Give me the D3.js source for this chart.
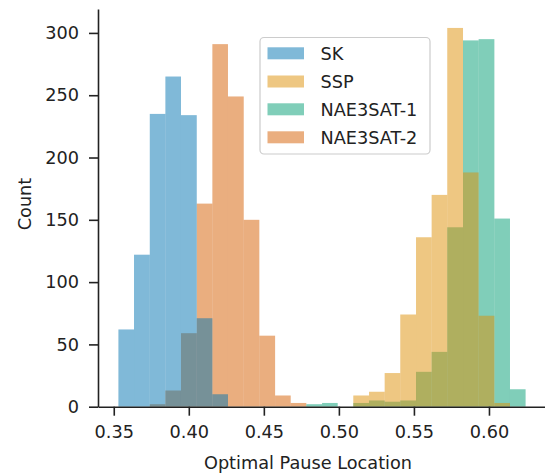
<!DOCTYPE html>
<html>
<head>
<meta charset="utf-8">
<script src="https://cdn.jsdelivr.net/npm/d3@7"></script>
<style>
  html, body { margin: 0; padding: 0; background: #fff; }
  svg { display: block; }
  text { font-family: "DejaVu Sans", sans-serif; fill: #222; }
</style>
</head>
<body>
<svg id="chart" width="545" height="475"></svg>
<script>
// Shared bin edges (27 edges -> 26 bins)
const binEdges = [0.3531, 0.3635, 0.3740, 0.3844, 0.3948, 0.4053, 0.4157, 0.4261, 0.4366,
  0.4470, 0.4575, 0.4679, 0.4783, 0.4888, 0.4992, 0.5096, 0.5201, 0.5305, 0.5409,
  0.5514, 0.5618, 0.5722, 0.5827, 0.5931, 0.6036, 0.6140, 0.6244];

const seriesNames = ["SK", "SSP", "NAE3SAT-1", "NAE3SAT-2"];
const seriesColors = ["#0173b2", "#de8f05", "#029e73", "#d55e00"];

const countsSK   = [62, 122, 235, 265, 234, 71, 10, 0, 0, 0, 0, 0, 0, 0, 0, 0, 0, 0, 0, 0, 0, 0, 0, 0, 0, 0];
const countsSSP  = [0, 0, 0, 0, 0, 0, 0, 0, 0, 0, 0, 0, 0, 0, 0, 9, 12, 27, 74, 136, 170, 304, 188, 73, 3, 0];
const countsNAE1 = [0, 0, 0, 0, 0, 0, 0, 0, 0, 0, 0, 0, 2, 3, 0, 3, 5, 4, 5, 28, 44, 144, 294, 295, 151, 14];
const countsNAE2 = [0, 0, 2, 13, 59, 163, 291, 249, 150, 57, 9, 3, 0, 0, 0, 0, 0, 0, 0, 0, 0, 0, 0, 0, 0, 0];

const xTicks = [0.35, 0.40, 0.45, 0.50, 0.55, 0.60];
const yTicks = [0, 50, 100, 150, 200, 250, 300];
const xLabel = "Optimal Pause Location";
const yLabel = "Count";

const seriesCounts = [countsSK, countsSSP, countsNAE1, countsNAE2];
const FS = "17.7px";

const svg = d3.select("#chart");
const x = d3.scaleLinear().domain([0.3395, 0.638]).range([98, 546]);
const y = d3.scaleLinear().domain([0, 319.2]).range([406.7, 9]);

// draw in reverse order so the first series is on top
const plot = svg.append("g");
for (let s = seriesNames.length - 1; s >= 0; s--) {
  const counts = seriesCounts[s];
  const bins = counts.map((c, i) => ({ x0: binEdges[i], x1: binEdges[i + 1], c }))
                     .filter(d => d.c > 0);
  plot.append("g").selectAll("rect").data(bins).join("rect")
    .attr("x", d => x(d.x0))
    .attr("width", d => x(d.x1) - x(d.x0))
    .attr("y", d => y(d.c))
    .attr("height", d => y(0) - y(d.c))
    .attr("fill", seriesColors[s])
    .attr("fill-opacity", 0.5);
}

// axes
const fmt = d3.format(".2f");
const xAxis = svg.append("g").attr("transform", `translate(0,${y(0)})`)
  .call(d3.axisBottom(x).tickValues(xTicks).tickFormat(fmt).tickSize(9).tickPadding(10).tickSizeOuter(0));
const yAxis = svg.append("g").attr("transform", `translate(${x.range()[0]},0)`)
  .call(d3.axisLeft(y).tickValues(yTicks).tickSize(9).tickPadding(10).tickSizeOuter(0));

[xAxis, yAxis].forEach(a => {
  a.selectAll("path.domain").attr("stroke", "#222").attr("stroke-width", 1.6);
  a.selectAll(".tick line").attr("stroke", "#222").attr("stroke-width", 1.6);
  a.selectAll(".tick text").style("font-family", "DejaVu Sans, sans-serif")
    .style("font-size", FS).attr("fill", "#222");
});

svg.append("text").attr("x", 308).attr("y", 469)
  .attr("text-anchor", "middle").style("font-size", FS).text(xLabel);
svg.append("text").attr("transform", "translate(31,204) rotate(-90)")
  .attr("text-anchor", "middle").style("font-size", FS).text(yLabel);

// legend
const lg = svg.append("g");
lg.append("rect").attr("x", 260).attr("y", 37.5).attr("width", 170).attr("height", 116.5)
  .attr("rx", 4).attr("fill", "#fff").attr("fill-opacity", 0.8)
  .attr("stroke", "#ccc").attr("stroke-width", 1.2);
const rowY = [53.3, 81.5, 109.3, 137.3];
seriesNames.forEach((name, i) => {
  lg.append("rect").attr("x", 267.5).attr("y", rowY[i] - 6).attr("width", 36.5).attr("height", 12)
    .attr("fill", seriesColors[i]).attr("fill-opacity", 0.5);
  lg.append("text").attr("x", 320.5).attr("y", rowY[i]).attr("dy", "0.36em")
    .style("font-size", FS).text(name);
});
</script>
</body>
</html>
